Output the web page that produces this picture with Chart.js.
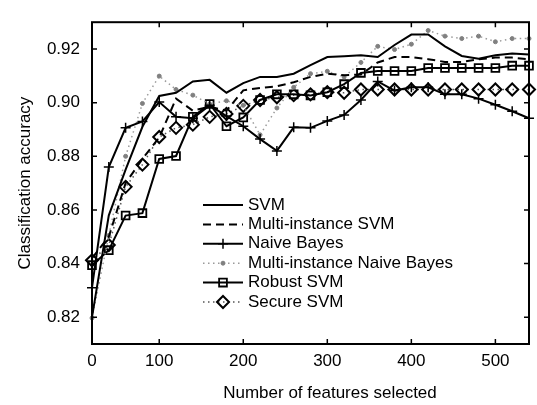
<!DOCTYPE html>
<html>
<head>
<meta charset="utf-8">
<script src="https://cdn.jsdelivr.net/npm/chart.js@4/dist/chart.umd.min.js"></script>
<style>
  html, body { margin: 0; padding: 0; background: #fff; }
  #wrap { width: 537px; height: 405px; position: relative; }
</style>
</head>
<body>
<div id="wrap"><canvas id="accChart"></canvas></div>
<script>
// number of features selected (points are evenly spaced in the original plot)
const featureCounts = [0, 25, 50, 75, 100, 120, 140, 160, 180, 200, 220, 240, 260, 280,
  300, 320, 340, 360, 380, 400, 420, 440, 460, 480, 500, 520, 540];
const xTickValues = [0, 100, 200, 300, 400, 500];
const yTicks = [0.82, 0.84, 0.86, 0.88, 0.90, 0.92];

const seriesNames = ['SVM', 'Multi-instance SVM', 'Naive Bayes', 'Multi-instance Naive Bayes',
  'Robust SVM', 'Secure SVM'];
const xTitle = 'Number of features selected';
const yTitle = 'Classification accuracy';

const svmAcc = [0.820, 0.858, 0.875, 0.891, 0.9025, 0.9037, 0.9079, 0.9085, 0.9037, 0.9073,
  0.9096, 0.9096, 0.9108, 0.914, 0.917, 0.9173, 0.9177, 0.917, 0.9215, 0.9254, 0.9254,
  0.921, 0.9174, 0.9164, 0.9177, 0.9183, 0.918];
const miSvmAcc = [0.842, 0.850, 0.870, 0.879, 0.887, 0.9015, 0.897, 0.8985, 0.897, 0.9046,
  0.9055, 0.9061, 0.9076, 0.9096, 0.9108, 0.9102, 0.9105, 0.915, 0.917, 0.917, 0.9162,
  0.9152, 0.9152, 0.9162, 0.9168, 0.9168, 0.9162];
const nbAcc = [0.831, 0.876, 0.8906, 0.893, 0.9002, 0.8947, 0.8942, 0.899, 0.895, 0.8912,
  0.8864, 0.882, 0.8908, 0.8906, 0.8932, 0.8954, 0.901, 0.9079, 0.9045, 0.9057, 0.9057,
  0.9031, 0.9031, 0.9015, 0.8992, 0.8968, 0.8942];
const miNbAcc = [0.8197, 0.8505, 0.880, 0.8997, 0.9099, 0.9049, 0.9028, 0.8995, 0.9007, 0.899,
  0.888, 0.898, 0.9057, 0.9108, 0.9117, 0.9096, 0.915, 0.921, 0.9198, 0.9218, 0.9269,
  0.9248, 0.9239, 0.9248, 0.9227, 0.9239, 0.9239];
const robustAcc = [0.8394, 0.845, 0.8579, 0.8588, 0.879, 0.8801, 0.8947, 0.8995, 0.8912, 0.8945,
  0.901, 0.9031, 0.9031, 0.9027, 0.9039, 0.9069, 0.9111, 0.9118, 0.9118, 0.9118, 0.9129,
  0.9129, 0.9129, 0.9129, 0.9129, 0.9138, 0.9138];
const secureAcc = [0.8412, 0.8469, 0.8686, 0.8769, 0.8872, 0.8906, 0.8918, 0.8947, 0.8958, 0.8988,
  0.901, 0.902, 0.9028, 0.9031, 0.9039, 0.9037, 0.9049, 0.9049, 0.9049, 0.9049, 0.9049,
  0.9049, 0.9049, 0.9049, 0.9049, 0.9049, 0.9049];

const FONT = "'Liberation Sans', Arial, Helvetica, sans-serif";

// MATLAB-like box with inward ticks on all four sides
const boxPlugin = {
  id: 'boxPlugin',
  afterDatasetsDraw(chart) {
    const { ctx, chartArea: a, scales: { x, y } } = chart;
    ctx.save();
    ctx.strokeStyle = '#000';
    ctx.lineWidth = 2;
    ctx.strokeRect(a.left, a.top, a.right - a.left, a.bottom - a.top);
    ctx.lineWidth = 1.5;
    ctx.beginPath();
    x.ticks.forEach(t => {
      const px = x.getPixelForValue(t.value);
      ctx.moveTo(px, a.bottom); ctx.lineTo(px, a.bottom - 5);
      ctx.moveTo(px, a.top); ctx.lineTo(px, a.top + 5);
    });
    y.ticks.forEach(t => {
      const py = y.getPixelForValue(t.value);
      ctx.moveTo(a.left, py); ctx.lineTo(a.left + 5, py);
      ctx.moveTo(a.right, py); ctx.lineTo(a.right - 5, py);
    });
    ctx.stroke();
    ctx.restore();
  }
};

// legend drawn inside the plot (no frame), plus the x title which sits right of centre
const legendPlugin = {
  id: 'insideLegend',
  afterDraw(chart) {
    const ctx = chart.ctx;
    const a = chart.chartArea;
    const x0 = a.left + 111, x1 = x0 + 40, textX = x1 + 5;
    ctx.save();
    chart.data.datasets.forEach((ds, i) => {
      const yy = 205 + i * 19.4;
      ctx.strokeStyle = ds.borderColor;
      ctx.lineWidth = ds.borderWidth;
      ctx.setLineDash(ds.borderDash || []);
      ctx.beginPath();
      ctx.moveTo(x0, yy);
      ctx.lineTo(x1, yy);
      ctx.stroke();
      ctx.setLineDash([]);
      if (ds.pointRadius > 0 && Chart.helpers && Chart.helpers.drawPoint) {
        ctx.fillStyle = ds.pointBackgroundColor;
        ctx.strokeStyle = ds.pointBorderColor;
        ctx.lineWidth = ds.pointBorderWidth;
        Chart.helpers.drawPoint(ctx, {
          pointStyle: ds.pointStyle, radius: ds.pointRadius,
          rotation: 0, borderWidth: ds.pointBorderWidth
        }, (x0 + x1) / 2, yy);
      }
      ctx.fillStyle = '#000';
      ctx.font = '17px ' + FONT;
      ctx.textBaseline = 'middle';
      ctx.textAlign = 'left';
      ctx.fillText(ds.label, textX, yy);
    });
    ctx.textAlign = 'center';
    ctx.fillText(xTitle, 330, 393);
    ctx.restore();
  }
};

const ctx = document.getElementById('accChart').getContext('2d');
const accChart = new Chart(ctx, {
  type: 'line',
  data: {
    labels: featureCounts,
    datasets: [{
      label: seriesNames[0],
      data: svmAcc,
      borderColor: '#000',
      borderWidth: 2,
      pointRadius: 0
    }, {
      label: seriesNames[1],
      data: miSvmAcc,
      borderColor: '#000',
      borderWidth: 2,
      borderDash: [8, 5],
      pointRadius: 0
    }, {
      label: seriesNames[2],
      data: nbAcc,
      borderColor: '#000',
      borderWidth: 2,
      pointStyle: 'cross',
      pointRadius: 5,
      pointBorderWidth: 1.5,
      pointBorderColor: '#000',
      pointBackgroundColor: '#000'
    }, {
      label: seriesNames[3],
      data: miNbAcc,
      borderColor: '#9a9a9a',
      borderWidth: 1.5,
      borderDash: [1.5, 3.5],
      pointStyle: 'circle',
      pointRadius: 2,
      pointBorderWidth: 1,
      pointBorderColor: '#808080',
      pointBackgroundColor: '#808080'
    }, {
      label: seriesNames[4],
      data: robustAcc,
      borderColor: '#000',
      borderWidth: 2,
      pointStyle: 'rect',
      pointRadius: 5.5,
      pointBorderWidth: 1.8,
      pointBorderColor: '#000',
      pointBackgroundColor: 'rgba(0,0,0,0)'
    }, {
      label: seriesNames[5],
      data: secureAcc,
      borderColor: '#555',
      borderWidth: 1.5,
      borderDash: [1.5, 3.5],
      pointStyle: 'rectRot',
      pointRadius: 6,
      pointBorderWidth: 2,
      pointBorderColor: '#000',
      pointBackgroundColor: 'rgba(0,0,0,0)'
    }]
  },
  options: {
    responsive: true,
    maintainAspectRatio: false,
    animation: false,
    layout: { padding: { top: 8, right: 1, left: 0, bottom: 0 } },
    elements: { line: { tension: 0 } },
    datasets: { line: { clip: false } },
    plugins: {
      legend: { display: false },
      tooltip: { enabled: false }
    },
    scales: {
      x: {
        type: 'category',
        offset: false,
        grid: { display: false, drawTicks: false },
        border: { display: false },
        afterBuildTicks(scale) {
          scale.ticks = scale.ticks.filter(t => xTickValues.includes(featureCounts[t.value]));
        },
        afterFit(scale) { scale.height = 61; },
        ticks: {
          autoSkip: false,
          maxRotation: 0,
          padding: 7,
          color: '#000',
          font: { family: FONT, size: 17 }
        },
        title: { display: false }
      },
      y: {
        min: 0.81,
        max: 0.93,
        grid: { display: false, drawTicks: false },
        border: { display: false },
        afterBuildTicks(scale) {
          scale.ticks = yTicks.map(v => ({ value: v }));
        },
        afterFit(scale) { scale.width = 92; },
        ticks: {
          padding: 12,
          color: '#000',
          font: { family: FONT, size: 17 },
          callback: v => v.toFixed(2)
        },
        title: {
          display: true,
          text: yTitle,
          color: '#000',
          font: { family: FONT, size: 17 },
          padding: { top: 15, bottom: 0 }
        }
      }
    }
  },
  plugins: [boxPlugin, legendPlugin]
});
</script>
</body>
</html>
